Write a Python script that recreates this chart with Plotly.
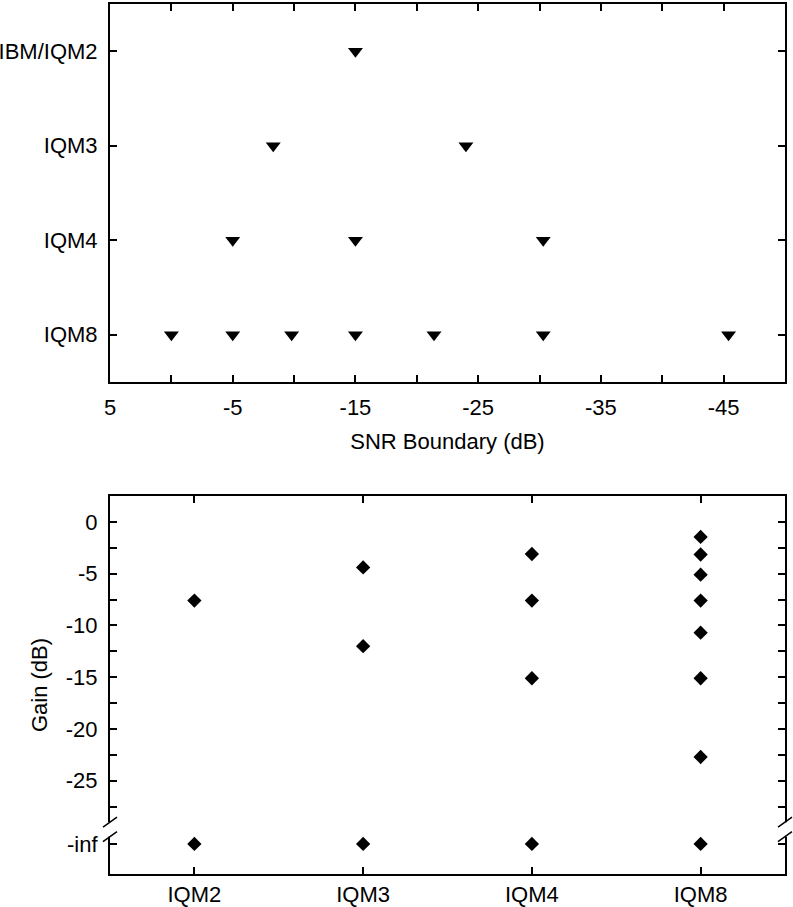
import math
import plotly.graph_objects as go

# ---------------- data ----------------
# Top panel: SNR boundaries (dB) for each quantizer
quantizer_rows = ["IQM8", "IQM4", "IQM3", "IBM/IQM2"]  # bottom -> top
ibm_iqm2_bounds = [-15]
iqm3_bounds = [-8.3, -24]
iqm4_bounds = [-5, -15, -30.3]
iqm8_bounds = [0, -5, -9.8, -15, -21.4, -30.3, -45.4]
snr_tick_values = [5, 0, -5, -10, -15, -20, -25, -30, -35, -40, -45]
snr_tick_labels = ["5", "", "-5", "", "-15", "", "-25", "", "-35", "", "-45"]

# Bottom panel: gains (dB) for each quantizer
quantizer_cols = ["IQM2", "IQM3", "IQM4", "IQM8"]
NEG_INF = float("-inf")
iqm2_gains = [-7.6, NEG_INF]
iqm3_gains = [-4.4, -12.0, NEG_INF]
iqm4_gains = [-3.1, -7.6, -15.1, NEG_INF]
iqm8_gains = [-1.45, -3.15, -5.1, -7.6, -10.7, -15.1, -22.7, NEG_INF]
gain_tick_values = [0, -2.5, -5, -7.5, -10, -12.5, -15, -17.5, -20, -22.5, -25, -27.5]
gain_tick_labels = ["0", "", "-5", "", "-10", "", "-15", "", "-20", "", "-25", ""]

# ---------------- styling ----------------
NEG_INF_POS = -31.1      # where "-inf" is drawn on the broken axis
BREAK_TOP, BREAK_BOT = -29.0, -30.4
FONT = "Liberation Sans, Arial, sans-serif"
FS = 22


def to_plot(v):
    return NEG_INF_POS if math.isinf(v) else v


fig = go.Figure()

top_sets = [("IBM/IQM2", ibm_iqm2_bounds), ("IQM3", iqm3_bounds),
            ("IQM4", iqm4_bounds), ("IQM8", iqm8_bounds)]
for name, vals in top_sets:
    fig.add_trace(go.Scatter(
        x=vals, y=[name] * len(vals), mode="markers", xaxis="x", yaxis="y",
        marker=dict(symbol="triangle-down", size=13, color="black"),
        showlegend=False, name=name))

bot_sets = [("IQM2", iqm2_gains), ("IQM3", iqm3_gains),
            ("IQM4", iqm4_gains), ("IQM8", iqm8_gains)]
for name, vals in bot_sets:
    fig.add_trace(go.Scatter(
        x=[name] * len(vals), y=[to_plot(v) for v in vals], mode="markers",
        xaxis="x2", yaxis="y2",
        marker=dict(symbol="diamond", size=11, color="black"),
        showlegend=False, name=name))

axis_common = dict(showline=True, linecolor="black", linewidth=2, mirror="ticks",
                   ticks="inside", ticklen=7, tickwidth=1.5, tickcolor="black",
                   showgrid=False, zeroline=False, automargin=False,
                   tickfont=dict(family=FONT, size=FS, color="black"))

x_dom = [110 / 793, 785 / 793]
fig.update_layout(
    width=793, height=907,
    margin=dict(l=0, r=0, t=0, b=0),
    paper_bgcolor="white", plot_bgcolor="white",
    font=dict(family=FONT, size=FS, color="black"),
    xaxis=dict(domain=x_dom, anchor="y", range=[5, -50], autorange=False,
               tickmode="array", tickvals=snr_tick_values, ticktext=snr_tick_labels,
               ticklabelstandoff=5,
               title=dict(text="SNR Boundary (dB)", standoff=14,
                          font=dict(family=FONT, size=22)),
               **axis_common),
    yaxis=dict(domain=[1 - 382 / 907, 1 - 4 / 907], anchor="x", type="category",
               categoryorder="array", categoryarray=quantizer_rows,
               range=[-0.5, 3.5], autorange=False, ticklabelstandoff=6,
               **axis_common),
    xaxis2=dict(domain=x_dom, anchor="y2", type="category",
                categoryorder="array", categoryarray=quantizer_cols,
                range=[-0.5, 3.5], autorange=False, ticklabelstandoff=0,
                **axis_common),
    yaxis2=dict(domain=[1 - 874 / 907, 1 - 496 / 907], anchor="x2",
                range=[-34, 2.5], autorange=False,
                tickmode="array", tickvals=gain_tick_values + [NEG_INF_POS],
                ticktext=gain_tick_labels + ["-inf"], ticklabelstandoff=6,
                title=dict(text="Gain (dB)", standoff=12,
                           font=dict(family=FONT, size=22)),
                **axis_common),
)

# axis-break marks on left and right of the lower panel
shapes = []
for xa in (0, 1):
    shapes.append(dict(type="rect", xref="x2 domain", yref="y2", layer="above",
                       xsizemode="pixel", xanchor=xa, x0=-3, x1=3,
                       y0=BREAK_BOT, y1=BREAK_TOP,
                       fillcolor="white", line=dict(width=0)))
    for yc in (BREAK_TOP, BREAK_BOT):
        shapes.append(dict(type="line", xref="x2 domain", yref="y2", layer="above",
                           xsizemode="pixel", xanchor=xa, x0=-7, x1=7,
                           ysizemode="pixel", yanchor=yc, y0=-5, y1=5,
                           line=dict(color="black", width=1.5)))
fig.update_layout(shapes=shapes)

# remove the browser's default 8px page margin so the figure sits at (0, 0)
fig.write_html("out.html", config={"displayModeBar": False},
               post_script="document.body.style.margin='0px';")
